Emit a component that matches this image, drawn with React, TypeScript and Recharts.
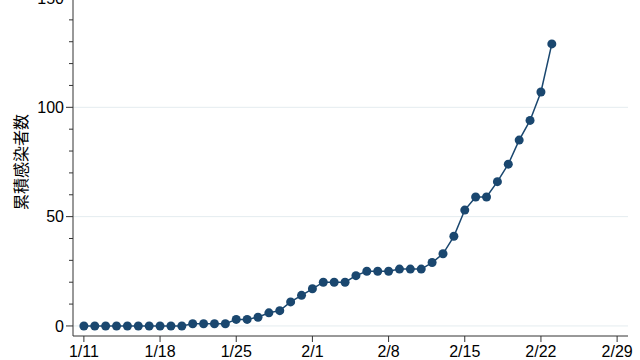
import { LineChart, Line, XAxis, YAxis, ReferenceLine } from "recharts"

// daily cumulative counts, 1/11 .. 2/23
const dates = [
  "1/11", "1/12", "1/13", "1/14", "1/15", "1/16", "1/17", "1/18", "1/19", "1/20",
  "1/21", "1/22", "1/23", "1/24", "1/25", "1/26", "1/27", "1/28", "1/29", "1/30", "1/31",
  "2/1", "2/2", "2/3", "2/4", "2/5", "2/6", "2/7", "2/8", "2/9", "2/10", "2/11",
  "2/12", "2/13", "2/14", "2/15", "2/16", "2/17", "2/18", "2/19", "2/20", "2/21", "2/22", "2/23",
]
const cases = [
  0, 0, 0, 0, 0, 0, 0, 0, 0, 0,
  1, 1, 1, 1, 3, 3, 4, 6, 7, 11, 14,
  17, 20, 20, 20, 23, 25, 25, 25, 26, 26, 26,
  29, 33, 41, 53, 59, 59, 66, 74, 85, 94, 107, 129,
]

const xTickDays = [0, 7, 14, 21, 28, 35, 42, 49]
const xTickLabels = ["1/11", "1/18", "1/25", "2/1", "2/8", "2/15", "2/22", "2/29"]
const yTicks = [0, 10, 20, 30, 40, 50, 60, 70, 80, 90, 100, 110, 120, 130, 140, 150]
const yMajor = [0, 50, 100, 150]

const NAVY = "#1a476f"
const AXIS = "#333"
const GRID = "#e4ecef"
const FONT = "'Liberation Sans', Arial, Helvetica, sans-serif"

const data = dates.map((d, i) => ({ day: i, date: d, cases: cases[i] }))

function YTick({ x, y, payload }: any) {
  const major = yMajor.includes(payload.value)
  return (
    <g>
      <line x1={x - (major ? 7 : 4)} x2={x} y1={y} y2={y} stroke={AXIS} />
      {major && (
        <text
          x={x - 9}
          y={y}
          dy="0.36em"
          textAnchor="end"
          fontSize={16}
          fill="#000"
          fontFamily={FONT}
        >
          {payload.value}
        </text>
      )}
    </g>
  )
}

function YLabel() {
  return (
    <text
      x={19.5}
      y={162}
      transform="rotate(-90 19.5 162)"
      textAnchor="middle"
      dominantBaseline="central"
      fontSize={16}
      fill="#000"
      fontFamily="'Noto Sans CJK JP', sans-serif"
    >
      累積感染者数
    </text>
  )
}

export default function App() {
  return (
    <div style={{ position: "absolute", left: 0, top: 0, background: "#fff" }}>
      <LineChart
        width={640}
        height={360}
        data={data}
        margin={{ top: -2, right: 12, bottom: 0, left: 0 }}
      >
        {yMajor.map((v) => (
          <ReferenceLine key={v} y={v} stroke={GRID} strokeWidth={1} />
        ))}
        <XAxis
          type="number"
          dataKey="day"
          domain={[-1, 50]}
          ticks={xTickDays}
          tickFormatter={(v: number) => xTickLabels[xTickDays.indexOf(v)]}
          tickSize={6}
          tickMargin={4}
          height={24}
          stroke={AXIS}
          tick={{ fontSize: 16, fill: "#000", fontFamily: FONT }}
          interval={0}
        />
        <YAxis
          type="number"
          domain={[-4.6, 150]}
          ticks={yTicks}
          width={73}
          tickSize={0}
          tickMargin={0}
          tickLine={false}
          stroke={AXIS}
          tick={<YTick />}
          interval={0}
          label={<YLabel />}
        />
        <Line
          type="linear"
          dataKey="cases"
          stroke={NAVY}
          strokeWidth={1.5}
          dot={{ r: 4.5, fill: NAVY, stroke: NAVY, strokeWidth: 0 }}
          activeDot={false}
          isAnimationActive={false}
        />
      </LineChart>
    </div>
  )
}
